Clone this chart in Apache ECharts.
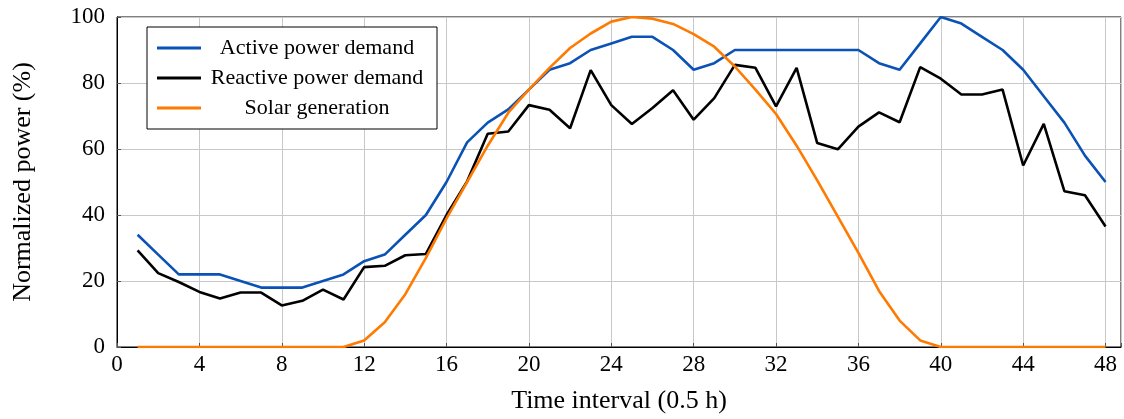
<!DOCTYPE html>
<html>
<head>
<meta charset="utf-8">
<script src="https://cdn.jsdelivr.net/npm/echarts@6/dist/echarts.min.js"></script>
<style>
  html, body { margin: 0; padding: 0; background: #fff; }
  #main { width: 1124px; height: 419px; }
</style>
</head>
<body>
<div id="main"></div>
<script>
// 时间段 1..48 (每段 0.5 h)
const intervals = Array.from({ length: 48 }, (_, i) => i + 1)

// 有功需求 (%)
const activeDemand = [34, 28, 22, 22, 22, 20, 18, 18, 18, 20, 22, 26, 28, 34, 40, 50,
  62, 68, 72, 78, 84, 86, 90, 92, 94, 94, 90, 84, 86, 90, 90, 90,
  90, 90, 90, 90, 86, 84, 92, 100, 98, 94, 90, 84, 76, 68, 58, 50]

// 无功需求 (%)
const reactiveDemand = [29.3, 22.4, 19.7, 16.7, 14.7, 16.5, 16.5, 12.6, 14, 17.4, 14.4, 24.2, 24.6, 27.8, 28.2, 40,
  50.2, 64.6, 65.3, 73.3, 71.9, 66.3, 83.9, 73.3, 67.6, 72.4, 77.8, 68.9, 75.4, 85.5, 84.6, 72.9,
  84.6, 61.8, 59.9, 66.8, 71.1, 68.1, 84.8, 81.3, 76.5, 76.5, 78, 55, 67.6, 47.2, 46, 36.5]

// 光伏出力 (%)
const solarGeneration = [0, 0, 0, 0, 0, 0, 0, 0, 0, 0, 0, 2, 7.5, 16, 27, 39,
  50, 61, 71, 78, 84.6, 90.6, 95, 98.6, 100, 99.5, 97.9, 94.8, 91, 85, 78, 70.6,
  61, 50.5, 39.5, 28.5, 17, 8, 2, 0, 0, 0, 0, 0, 0, 0, 0, 0]

const xTicks = [0, 4, 8, 12, 16, 20, 24, 28, 32, 36, 40, 44, 48]
const yTicks = [0, 20, 40, 60, 80, 100]

const font = 'Liberation Serif'

function pairs(values) {
  return intervals.map((x, i) => [x, values[i]])
}

function lineSeries(name, values, color) {
  return {
    name: name,
    type: 'line',
    data: pairs(values),
    symbol: 'none',
    lineStyle: { color: color, width: 2.6 },
    itemStyle: { color: color },
    z: 3
  }
}

var myChart = echarts.init(document.getElementById('main'))

var option = {
  animation: false,
  textStyle: { fontFamily: font },
  grid: {
    left: 117, right: 0, top: 17, bottom: 69,
    show: true, borderColor: '#000', borderWidth: 1, backgroundColor: '#fff'
  },
  legend: {
    orient: 'vertical',
    left: 147, top: 27,
    padding: [10, 9, 10, 10],
    itemGap: 8,
    itemWidth: 44,
    itemHeight: 22,
    backgroundColor: '#fff',
    borderColor: '#000',
    borderWidth: 1,
    icon: 'path://M0,0 L44,0 L44,3 L0,3 Z',
    formatter: name => '{c|' + name + '}',
    textStyle: {
      fontFamily: font, fontSize: 22, color: '#000',
      rich: { c: { width: 222, align: 'center', fontFamily: font, fontSize: 22, lineHeight: 22, color: '#000' } }
    },
    data: ['Active power demand', 'Reactive power demand', 'Solar generation']
  },
  xAxis: {
    type: 'value',
    min: 0, max: 48.75, interval: 4,
    name: 'Time interval (0.5 h)',
    nameLocation: 'middle',
    nameGap: 41,
    nameTextStyle: { fontFamily: font, fontSize: 26, color: '#000' },
    axisLine: { lineStyle: { color: '#000', width: 1 } },
    axisTick: { inside: true, length: 4, lineStyle: { color: '#555' } },
    axisLabel: {
      fontFamily: font, fontSize: 23, color: '#000', margin: 6,
      formatter: v => xTicks.includes(v) ? String(v) : ''
    },
    splitLine: { show: true, lineStyle: { color: '#c8c8c8', width: 1 } }
  },
  yAxis: {
    type: 'value',
    min: 0, max: 100, interval: 20,
    name: 'Normalized power (%)',
    nameLocation: 'middle',
    nameGap: 81,
    nameTextStyle: { fontFamily: font, fontSize: 26, color: '#000' },
    axisLine: { show: true, lineStyle: { color: '#000', width: 1 } },
    axisTick: { show: true, inside: true, length: 4, lineStyle: { color: '#555' } },
    axisLabel: {
      fontFamily: font, fontSize: 23, color: '#000', margin: 12,
      formatter: v => yTicks.includes(v) ? String(v) : ''
    },
    splitLine: { show: true, lineStyle: { color: '#c8c8c8', width: 1 } }
  },
  series: [
    lineSeries('Active power demand', activeDemand, '#0a52b5'),
    lineSeries('Reactive power demand', reactiveDemand, '#000000'),
    lineSeries('Solar generation', solarGeneration, '#ff7a00')
  ]
}

myChart.setOption(option)
</script>
</body>
</html>
